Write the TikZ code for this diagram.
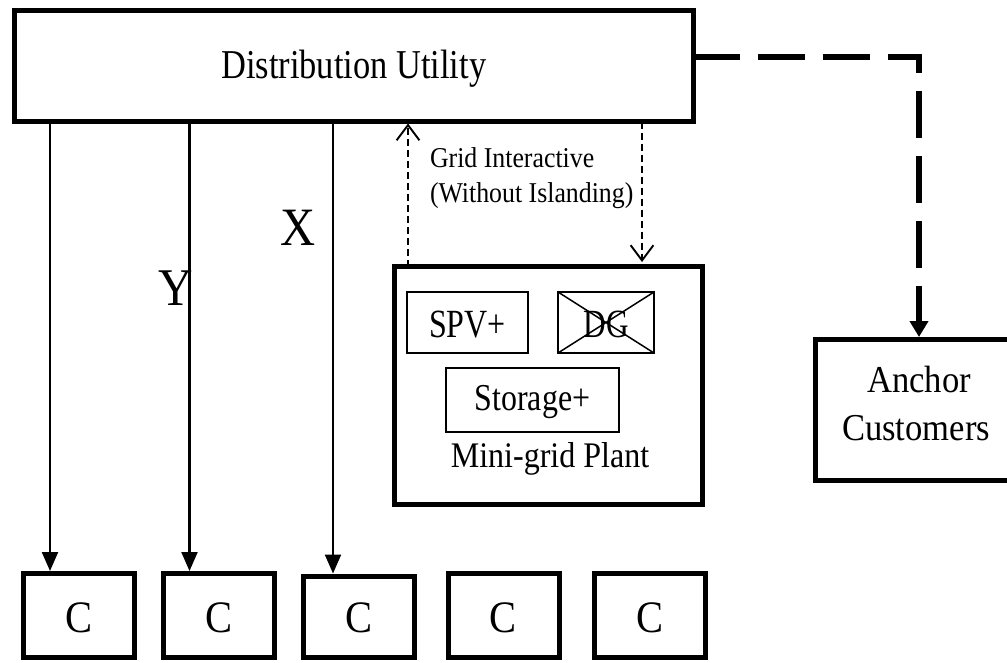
\documentclass[tikz,border=0pt]{standalone}
\usepackage{fontspec}
\setmainfont{Liberation Serif}
\usepackage{graphicx}
\usetikzlibrary{arrows.meta}
\newcommand\sq[2]{\scalebox{#1}[1]{#2}}
\newcommand\fs[1]{\fontsize{#1}{#1}\selectfont}
\begin{document}
\begin{tikzpicture}[x=1pt,y=-1pt,
  bigbox/.style={draw, line width=5pt, inner sep=0pt, outer sep=0pt},
  smallbox/.style={draw, line width=1.8pt, inner sep=0pt, outer sep=0pt},
  cbox/.style={bigbox, minimum width=111pt, minimum height=83.5pt, text height=33.5pt, text depth=0pt, font={\fs{45}}},
  feed/.style={line width=2.2pt, -{Triangle[length=19pt,width=16pt]}, shorten >=2.5pt},
  inter/.style={line width=1.9pt, dash pattern=on 7pt off 4pt, -{Straight Barb[length=8pt,width=12pt,scale=1.9]}},
  anchorlink/.style={line width=6pt, dash pattern=on 47pt off 18pt, -{Triangle[length=16pt,width=18pt]}, shorten >=2.5pt},
  lbl/.style={inner sep=0pt, outer sep=0pt, anchor=base}
]
\useasboundingbox (0,0) rectangle (1007,662);

% Distribution utility
\node[bigbox, minimum width=678.5pt, minimum height=111.5pt, text height=24.5pt, text depth=0pt, font={\fs{41}}]
  (DU) at (353.75,65.75) {\sq{0.84}{Distribution Utility}};

% consumers
\node[cbox] (C1) at (79,615.25) {\sq{0.9}{C}};
\node[cbox] (C2) at (219,615.25) {\sq{0.9}{C}};
\node[cbox, minimum height=81pt, text height=31pt] (C3) at (359,616.5) {\sq{0.9}{C}};
\node[cbox] (C4) at (503.5,615.25) {\sq{0.9}{C}};
\node[cbox] (C5) at (650,615.25) {\sq{0.9}{C}};

% feeders
\coordinate (f1) at (50,0);
\coordinate (f2) at (189.5,0);
\coordinate (f3) at (333,0);
\draw[feed] (DU.south -| f1) -- (C1.north -| f1);
\draw[feed] (DU.south -| f2) -- (C2.north -| f2);
\draw[feed] (DU.south -| f3) -- (C3.north -| f3);
\node[lbl, font={\fs{53}}] (Y) at (176,305) {\sq{0.9}{Y}};
\node[lbl, font={\fs{54}}] (X) at (298,245) {\sq{0.9}{X}};

% mini-grid plant
\node[bigbox, minimum width=308pt, minimum height=238pt] (MG) at (548.5,385.5) {};
\node[smallbox, minimum width=121pt, minimum height=61pt, text height=29pt, text depth=0pt, font={\fs{40}}]
  (SPV) at (467.5,322.5) {\sq{0.8}{SPV+}};
\node[smallbox, minimum width=96pt, minimum height=61pt, text height=29pt, text depth=0pt, font={\fs{40}}]
  (DG) at (606,322.5) {\sq{0.78}{DG}};
\draw[line width=1.5pt] (DG.north west) -- (DG.south east) (DG.south west) -- (DG.north east);
\node[smallbox, minimum width=173pt, minimum height=64pt, text height=20pt, text depth=0pt, font={\fs{38}}]
  (ST) at (532.5,400) {\sq{0.84}{Storage+}};
\node[lbl, font={\fs{36}}] (MGL) at (550,467) {\sq{0.89}{Mini-grid Plant}};

% grid interaction
\coordinate (u1) at (408,0);
\coordinate (d1) at (642,0);
\draw[inter, shorten >=2pt] (MG.north -| u1) -- (DU.south -| u1);
\draw[inter, shorten >=4.5pt] (DU.south -| d1) -- (MG.north -| d1);
\node[lbl, anchor=base west, font={\fs{28.7}}] (GI1) at (430,167) {\sq{0.9}{Grid Interactive}};
\node[lbl, anchor=base west, font={\fs{28.7}}] (GI2) at (430,202) {\sq{0.9}{(Without Islanding)}};

% anchor customers
\node[bigbox, minimum width=207pt, minimum height=141pt] (AC) at (919,410) {};
\node[lbl, font={\fs{38}}] (AC1) at (919,392) {\sq{0.91}{Anchor}};
\node[lbl, font={\fs{38}}] (AC2) at (916,440) {\sq{0.91}{Customers}};
\draw[anchorlink] ([yshift=8.75pt]DU.east) -| (AC.north);
\end{tikzpicture}
\end{document}
